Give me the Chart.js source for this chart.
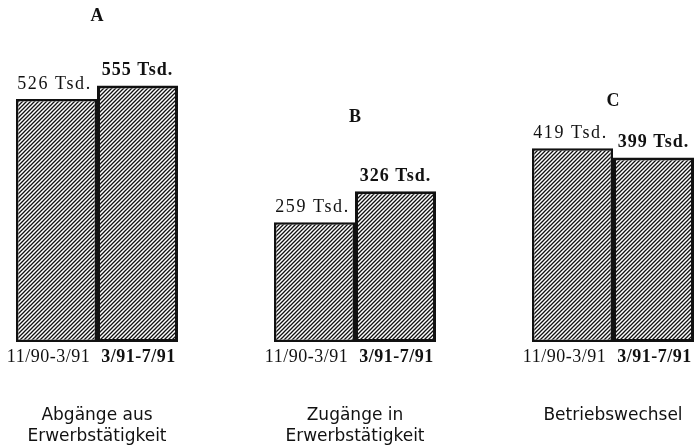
<!DOCTYPE html>
<html>
<head>
<meta charset="utf-8">
<script src="https://cdn.jsdelivr.net/npm/chart.js@4/dist/chart.umd.min.js"></script>
<style>
  body { margin: 0; background: #fff; }
  #wrap { width: 697px; height: 447px; }
</style>
</head>
<body>
<div id="wrap"><canvas id="chart" width="697" height="447"></canvas></div>
<script>
// Dados do gráfico
const groups = ['A', 'B', 'C'];
const groupNames = [['Abgänge aus', 'Erwerbstätigkeit'], ['Zugänge in', 'Erwerbstätigkeit'], ['Betriebswechsel']];
const periods = ['11/90-3/91', '3/91-7/91'];
const values1 = [526, 259, 419];   // 11/90-3/91
const values2 = [555, 326, 399];   // 3/91-7/91
const unit = 'Tsd.';

// Distância da letra ao topo da barra mais alta (px)
const letterGap = [69, 74, 47];
// Deslocamento horizontal dos rótulos de período
const periodShift = [-8, 1];

// Padrão de hachura
function hatch(lw) {
    const c = document.createElement('canvas');
    const s = 4;
    c.width = s; c.height = s;
    const g = c.getContext('2d');
    g.fillStyle = '#fff';
    g.fillRect(0, 0, s, s);
    g.strokeStyle = '#111';
    g.lineWidth = lw;
    g.beginPath();
    g.moveTo(-1, s + 1); g.lineTo(s + 1, -1);
    g.moveTo(-1, 1); g.lineTo(1, -1);
    g.moveTo(s - 1, s + 1); g.lineTo(s + 1, s - 1);
    g.stroke();
    return g.createPattern(c, 'repeat');
}

const serif = '"Liberation Serif", "Times New Roman", serif';
const sans = '"DejaVu Sans", sans-serif';

// Rótulos desenhados sobre o gráfico
const labelPlugin = {
    id: 'labels',
    afterDatasetsDraw(chart) {
        const ctx = chart.ctx;
        ctx.save();
        ctx.fillStyle = '#111';
        ctx.textAlign = 'center';
        ctx.textBaseline = 'middle';
        const bottom = chart.chartArea.bottom;

        chart.data.datasets.forEach((ds, i) => {
            const meta = chart.getDatasetMeta(i);
            meta.data.forEach((bar, j) => {
                const bold = i === 1 ? 'bold ' : '';
                ctx.font = bold + '18px ' + serif;
                ctx.letterSpacing = i === 1 ? '1px' : '1.6px';
                ctx.fillText(ds.data[j] + ' ' + unit, bar.x - (i === 0 ? 2 : 0), bar.y - 15);
                ctx.letterSpacing = '0.5px';
                ctx.fillText(periods[i], bar.x + periodShift[i], bottom + 15);
            });
        });

        ctx.letterSpacing = '0px';
        groups.forEach((g, j) => {
            const b1 = chart.getDatasetMeta(0).data[j];
            const b2 = chart.getDatasetMeta(1).data[j];
            const cx = (b1.x + b2.x) / 2;
            const top = Math.min(b1.y, b2.y);
            ctx.font = 'bold 18px ' + serif;
            ctx.fillText(g, cx, top - letterGap[j]);

            ctx.font = '17px ' + sans;
            groupNames[j].forEach((line, k) => {
                ctx.fillText(line, cx, bottom + 74 + k * 21);
            });
        });
        ctx.restore();
    }
};

const chart = new Chart(document.getElementById('chart'), {
    type: 'bar',
    data: {
        labels: groups,
        datasets: [
            {
                label: periods[0],
                data: values1,
                backgroundColor: hatch(1.3),
                borderColor: '#111',
                borderWidth: 2.5,
                borderSkipped: false,
                clip: false
            },
            {
                label: periods[1],
                data: values2,
                backgroundColor: hatch(1.3),
                borderColor: '#111',
                borderWidth: 3,
                borderSkipped: false,
                clip: false
            }
        ]
    },
    options: {
        responsive: false,
        animation: false,
        devicePixelRatio: 1,
        layout: { padding: { left: 97, right: 84, top: 0, bottom: 105 } },
        categoryPercentage: 0.628,
        barPercentage: 1,
        plugins: { legend: { display: false }, tooltip: { enabled: false } },
        scales: {
            x: { display: false, offset: false },
            y: { display: false, min: 0, max: 740 }
        }
    },
    plugins: [labelPlugin]
});
</script>
</body>
</html>
